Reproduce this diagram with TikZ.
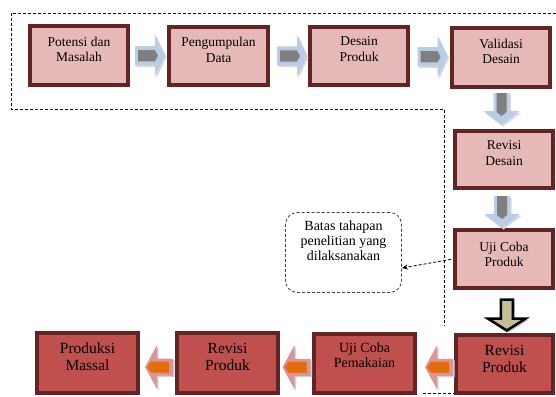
\documentclass[tikz,border=0pt]{standalone}
\usepackage{fontspec}
\setmainfont{Liberation Serif}
\usetikzlibrary{calc,shadows,arrows.meta}
\definecolor{bdr}{HTML}{632523}
\definecolor{lightfill}{HTML}{E6B9B8}
\definecolor{darkfill}{HTML}{C0504D}
\definecolor{arrblue}{HTML}{B9CDE5}
\definecolor{arrgray}{HTML}{7F7F7F}
\definecolor{arrpink}{HTML}{DA9694}
\definecolor{arrorange}{HTML}{E46C0A}
\definecolor{khakifill}{HTML}{C4BD97}
\newcommand\rightblock[1]{%
  \begin{scope}[shift={(#1)}]
    \fill[black!15] (-13.5,-8) -- (6.5,-8) -- (6.5,-19.5) -- (16.5,1.5) -- (6.5,22.5) -- (6.5,11) -- (-13.5,11) -- cycle;
    \fill[arrblue] (-15,-9.5) -- (5,-9.5) -- (5,-21) -- (15,0) -- (5,21) -- (5,9.5) -- (-15,9.5) -- cycle;
    \fill[arrgray] (-12,-5.5) -- (5,-5.5) -- (8,0) -- (5,5.5) -- (-12,5.5) -- cycle;
  \end{scope}}
\newcommand\downblock[1]{%
  \begin{scope}[shift={(#1)}]
    \fill[black!15] (-6.5,-14.5) -- (-6.5,4) -- (-16.5,4) -- (1.5,17.5) -- (19.5,4) -- (9.5,4) -- (9.5,-14.5) -- cycle;
    \fill[arrblue] (-8,-16) -- (-8,2) -- (-18,2) -- (0,16) -- (18,2) -- (8,2) -- (8,-16) -- cycle;
    \fill[arrgray] (-5,-16) -- (-5,3) -- (0,7) -- (5,3) -- (5,-16) -- cycle;
  \end{scope}}
\newcommand\leftblock[1]{%
  \begin{scope}[shift={(#1)}]
    \fill[arrblue!80] (-12.5,1.5) -- (-0.5,-20.5) -- (-0.5,-7) -- (15.5,-7) -- (15.5,10) -- (-0.5,10) -- (-0.5,23.5) -- cycle;
    \fill[arrpink] (-14,0) -- (-2,-22) -- (-2,-8.5) -- (14,-8.5) -- (14,8.5) -- (-2,8.5) -- (-2,22) -- cycle;
    \fill[arrorange] (-12,0) -- (-8,-5.5) -- (10,-5.5) -- (10,5.5) -- (-8,5.5) -- cycle;
  \end{scope}}
\begin{document}
\begin{tikzpicture}[x=1pt,y=-1pt,
  boxbase/.style={draw=bdr, line width=4pt, rectangle, inner sep=0pt,
    drop shadow={shadow xshift=2pt, shadow yshift=-2pt, opacity=0.3}},
  lightbox/.style={boxbase, fill=lightfill},
  darkbox/.style={boxbase, fill=darkfill},
  lbl/.style={align=center, font=\fontsize{13.5}{15.5}\selectfont, inner sep=0pt},
  lblmid/.style={align=center, font=\fontsize{14}{15}\selectfont, inner sep=0pt},
  lblbig/.style={align=center, font=\fontsize{15.5}{17}\selectfont, inner sep=0pt},
  framestyle/.style={line width=0.8pt, dash pattern=on 3pt off 2pt}
]
\useasboundingbox (0,0) rectangle (556,396);
\fill[white] (0,0) rectangle (556,396);

% dashed frame
\draw[framestyle] (556,13) -- (11,13) -- (11,109) -- (444,109) -- (444,326);
\draw[framestyle] (423,393) -- (456,393);

% row 1
\node[lightbox, minimum width=98pt, minimum height=59pt] (A) at (79,55.5) {};
\node[lbl] (At) at ($(A.center)+(0,-6)$) {Potensi dan\\Masalah};
\node[lightbox, minimum width=99pt, minimum height=58pt] (B) at (218.5,56) {};
\node[lbl] (Bt) at ($(B.center)+(0,-6)$) {Pengumpulan\\Data};
\node[lightbox, minimum width=98pt, minimum height=58pt] (C) at (359,56) {};
\node[lbl] (Ct) at ($(C.center)+(0,-7)$) {Desain\\Produk};
\node[lightbox, minimum width=98pt, minimum height=59pt] (D) at (501,57.5) {};
\node[lbl] (Dt) at ($(D.center)+(0,-6)$) {Validasi\\Desain};
\node[lightbox, minimum width=98pt, minimum height=57pt] (E) at (504,159.5) {};
\node[lbl] (Et) at ($(E.center)+(0,-6.5)$) {Revisi\\Desain};
\node[lightbox, minimum width=98pt, minimum height=58pt] (F) at (504,259) {};
\node[lbl] (Ft) at ($(F.center)+(0,-4.5)$) {Uji Coba\\Produk};

% row 2
\node[darkbox, minimum width=97pt, minimum height=58pt] (G) at (504.5,364) {};
\node[lblbig] (Gt) at ($(G.center)+(0,-5.5)$) {Revisi\\Produk};
\node[darkbox, minimum width=101pt, minimum height=59pt] (H) at (364.5,363.5) {};
\node[lblmid] (Ht) at ($(H.center)+(0,-8)$) {Uji Coba\\Pemakaian};
\node[darkbox, minimum width=101pt, minimum height=60pt] (I) at (227.5,363) {};
\node[lblbig] (It) at ($(I.center)+(0,-6.5)$) {Revisi\\Produk};
\node[darkbox, minimum width=101pt, minimum height=60pt] (J) at (87.5,363) {};
\node[lblbig] (Jt) at ($(J.center)+(0,-6.5)$) {Produksi\\Massal};

% block arrows
\coordinate (ab) at ($(A.east)!0.5!(B.west)+(1.5,0)$);
\coordinate (bc) at ($(B.east)!0.5!(C.west)+(3,0)$);
\coordinate (cd) at ($(C.east)!0.5!(D.west)+(2.5,0)$);
\rightblock{ab}
\rightblock{bc}
\rightblock{cd}
\coordinate (de) at ($(D.south)!0.5!(E.north)+(-1,0)$);
\coordinate (ef) at ($(E.south)!0.5!(F.north)+(-2,3)$);
\downblock{de}
\downblock{ef}
\coordinate (fg) at ($(F.south)!0.5!(G.north)+(2.5,3)$);
\begin{scope}[shift={(fg)}]
  \fill[black!25] (-5,-15) -- (-5,5.5) -- (-18.5,5.5) -- (1.5,18) -- (21.5,5.5) -- (8,5.5) -- (8,-15) -- cycle;
  \filldraw[draw=black, line width=2.5pt, fill=khakifill, line join=miter]
    (-6,-15) -- (-6,4) -- (-19,4) -- (0,16) -- (19,4) -- (6,4) -- (6,-15) -- cycle;
\end{scope}
\coordinate (gh) at ($(G.west)!0.5!(H.east)+(3.5,3.5)$);
\coordinate (hi) at ($(H.west)!0.5!(I.east)+(0.5,4)$);
\coordinate (ij) at ($(I.west)!0.5!(J.east)+(1.5,4)$);
\leftblock{gh}
\leftblock{hi}
\leftblock{ij}

% note box
\node[draw=black!75, line width=0.8pt, dash pattern=on 3pt off 2pt, rounded corners=12pt,
  minimum width=116pt, minimum height=80pt] (batas) at (343.5,252.5) {};
\node[lblmid, anchor=north] (batastext) at ($(batas.north)+(0,8)$) {Batas tahapan\\penelitian yang\\dilaksanakan};
\coordinate (bt) at ($(batas.east)+(0,15.5)$);
\draw[framestyle, -{Stealth[length=6pt,width=5pt]}, shorten <=2pt] (F.west) -- (bt);
\end{tikzpicture}
\end{document}
